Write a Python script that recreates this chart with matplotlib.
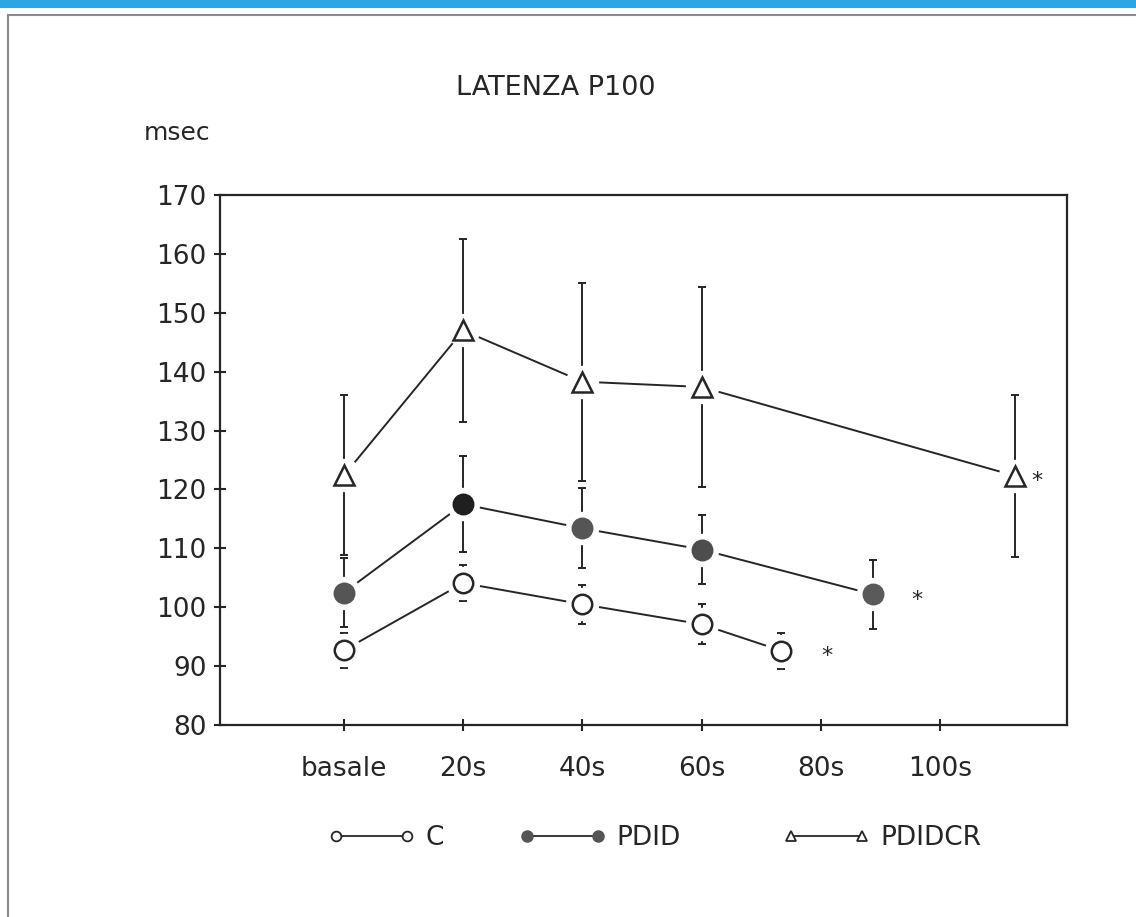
import matplotlib
matplotlib.use("Agg")
import matplotlib.pyplot as plt
from matplotlib.lines import Line2D
from matplotlib.patches import Rectangle

# ---------------- data ----------------
time_ticks = [0, 20, 40, 60, 80, 100]
time_labels = ["basale", "20s", "40s", "60s", "80s", "100s"]
y_ticks = [80, 90, 100, 110, 120, 130, 140, 150, 160, 170]

c_x = [0, 20, 40, 60, 73.4]
c_mean = [92.7, 104.1, 100.5, 97.1, 92.6]
c_sd = [3.0, 3.0, 3.3, 3.4, 3.1]

pdid_x = [0, 20, 40, 60, 88.7]
pdid_mean = [102.5, 117.5, 113.4, 109.8, 102.2]
pdid_sd = [5.9, 8.2, 6.8, 5.9, 5.9]

pdidcr_x = [0, 20, 40, 60, 112.6]
pdidcr_mean = [122.4, 147.0, 138.3, 137.4, 122.3]
pdidcr_sd = [13.6, 15.6, 16.8, 16.9, 13.8]

series_names = ["C", "PDID", "PDIDCR"]
title_text = "LATENZA P100"
y_unit = "msec"

# ---------------- style ----------------
INK = "#262626"
FONT = ["DejaVu Sans"]
plt.rcParams["font.family"] = FONT

fig = plt.figure(figsize=(11.36, 9.17), dpi=100)

# decorative page elements
fig.patches.append(Rectangle((0, 1 - 8 / 917), 1, 8 / 917, transform=fig.transFigure,
                             facecolor="#2aa6e2", edgecolor="none", zorder=0))
fig.add_artist(Line2D([8 / 1136, 8 / 1136], [0, 1 - 15 / 917], transform=fig.transFigure,
                      color="#8a8a8a", lw=1.5))
fig.add_artist(Line2D([8 / 1136, 1], [1 - 15 / 917, 1 - 15 / 917], transform=fig.transFigure,
                      color="#8a8a8a", lw=1.5))

ax = fig.add_axes([220 / 1136, 1 - 725 / 917, (1067 - 220) / 1136, (725 - 195) / 917])
ax.set_xlim(-20.8, 121.3)
ax.set_ylim(80, 170)

pdid_face = ["#555555", "#1f1f1f", "#555555", "#4d4d4d", "#5a5a5a"]

lw = 1.4
series = [
    (c_x, c_mean, c_sd, "o", 14, ["white"] * len(c_x)),
    (pdid_x, pdid_mean, pdid_sd, "o", 14, pdid_face),
    (pdidcr_x, pdidcr_mean, pdidcr_sd, "^", 14.5, ["white"] * len(pdidcr_x)),
]

for xs, ys, sd, mk, ms, faces in series:
    ax.plot(xs, ys, "-", color=INK, lw=lw, zorder=2)
    ax.errorbar(xs, ys, yerr=sd, fmt="none", ecolor=INK, elinewidth=lw,
                capsize=3, capthick=lw, zorder=2)
    # white halo around marker (gap between marker and lines/bars)
    ax.plot(xs, ys, "o", ms=24, mfc="white", mec="none", zorder=3)
    for x, y, fc in zip(xs, ys, faces):
        ax.plot([x], [y], mk, ms=ms, mfc=fc, mec=INK if fc == "white" else fc,
                mew=1.8, zorder=4)

# significance asterisks next to last points
for xs, ys, off in [(c_x, c_mean, 33), (pdid_x, pdid_mean, 32), (pdidcr_x, pdidcr_mean, 16)]:
    ax.annotate("*", xy=(xs[-1], ys[-1]), xytext=(off, -4), textcoords="offset points",
                ha="center", va="center", fontsize=16, color=INK)

for s in ax.spines.values():
    s.set_linewidth(1.6)
    s.set_color(INK)

ax.set_xticks(time_ticks)
ax.set_xticklabels(time_labels)
ax.set_yticks(y_ticks)
ax.tick_params(axis="both", direction="inout", length=9, width=1.5, color=INK,
               labelcolor=INK, labelsize=19)
ax.tick_params(axis="x", pad=18)
ax.tick_params(axis="y", pad=5)

fig.text(556 / 1136, 1 - 88 / 917, title_text, ha="center", va="center",
         fontsize=19.5, color=INK)
fig.text(177 / 1136, 1 - 133 / 917, y_unit, ha="center", va="center",
         fontsize=18, color=INK)

handles = [
    Line2D([], [], color=INK, lw=1.3, marker="o", ms=7, mfc="white", mec=INK, mew=1.3),
    Line2D([], [], color=INK, lw=1.3, marker="o", ms=8, mfc="#555555", mec="#555555"),
    Line2D([], [], color=INK, lw=1.3, marker="^", ms=7, mfc="white", mec=INK, mew=1.3),
]
legend_left_px = [328, 519, 783]
for h, name, lx in zip(handles, series_names, legend_left_px):
    leg = fig.legend([h], [name], loc="center left",
                     bbox_to_anchor=(lx / 1136, 1 - 838 / 917),
                     frameon=False, numpoints=2, handlelength=3.3, handletextpad=0.4,
                     borderpad=0, borderaxespad=0, fontsize=19)
    for t in leg.get_texts():
        t.set_color(INK)

fig.savefig("out.png", dpi=100, facecolor="white")
